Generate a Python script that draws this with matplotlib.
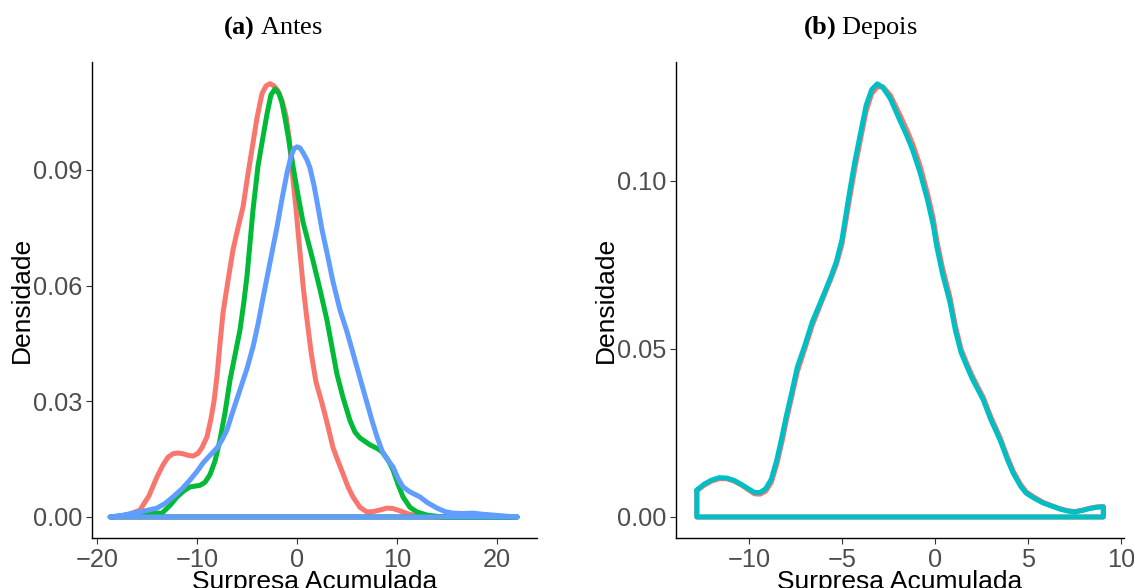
import matplotlib
matplotlib.use('Agg')
import matplotlib.pyplot as plt

plt.rcParams['font.family'] = ['Liberation Sans', 'DejaVu Sans']
plt.rcParams['mathtext.fontset'] = 'custom'
plt.rcParams['mathtext.rm'] = 'Liberation Serif'
plt.rcParams['mathtext.bf'] = 'Liberation Serif:bold'

# (a) Antes - densidades
antes_verm_x = [-18.6, -17.2, -15.7, -14.8, -14.0, -13.4, -12.9, -12.4, -11.9, -11.4,
                -10.9, -10.4, -9.9, -9.5, -9.0, -8.6, -8.3, -8.0, -7.7, -7.4,
                -7.1, -6.7, -6.4, -5.9, -5.4, -4.9, -4.4, -4.0, -3.5, -3.1,
                -2.7, -2.3, -1.9, -1.5, -1.1, -0.8, -0.5, -0.1, 0.3, 0.65,
                1.0, 1.45, 1.9, 2.5, 3.0, 3.6, 4.1, 4.6, 5.1, 5.6,
                6.3, 7.0, 7.6, 8.3, 9.0, 9.6, 10.3, 11.0, 11.6, 12.5,
                14.0, 22.0]
antes_verm_y = [0.0, 0.0003, 0.0018, 0.0055, 0.0104, 0.0135, 0.0155, 0.0164, 0.0166, 0.0164,
                0.0160, 0.0158, 0.0165, 0.0180, 0.0208, 0.0255, 0.0300, 0.0365, 0.0450, 0.0529,
                0.0580, 0.0645, 0.0693, 0.0750, 0.0804, 0.0890, 0.0970, 0.1035, 0.1098, 0.1118,
                0.1124, 0.1118, 0.1105, 0.1080, 0.1040, 0.0985, 0.0900, 0.0800, 0.0685, 0.0590,
                0.0511, 0.0420, 0.0350, 0.0295, 0.0245, 0.0180, 0.0145, 0.0112, 0.0078, 0.0052,
                0.0025, 0.0013, 0.0014, 0.0018, 0.0023, 0.0022, 0.0016, 0.0009, 0.0005, 0.0002,
                0.0, 0.0]

antes_verde_x = [-18.6, -15.7, -13.5, -12.7, -12.0, -11.3, -10.7, -10.2, -9.7, -9.2,
                 -8.7, -8.2, -7.7, -7.2, -6.7, -6.2, -5.7, -5.3, -5.0, -4.7,
                 -4.4, -3.9, -3.4, -3.0, -2.6, -2.2, -1.8, -1.5, -1.2, -0.9,
                 -0.4, 0.1, 0.6, 1.1, 1.6, 2.3, 3.0, 3.5, 4.0, 4.6,
                 5.3, 5.8, 6.3, 7.3, 8.0, 8.5, 9.1, 9.6, 10.1, 10.6,
                 11.3, 12.0, 13.0, 14.5, 22.0]
antes_verde_y = [0.0, 0.0010, 0.0010, 0.0030, 0.0052, 0.0068, 0.0078, 0.0080, 0.0082, 0.0090,
                 0.0110, 0.0145, 0.0200, 0.0270, 0.0355, 0.0420, 0.0485, 0.0560, 0.0625, 0.0710,
                 0.0796, 0.0910, 0.0986, 0.1045, 0.1095, 0.1110, 0.1098, 0.1074, 0.1035, 0.0990,
                 0.0910, 0.0835, 0.0765, 0.0715, 0.0665, 0.0590, 0.0510, 0.0440, 0.0370, 0.0310,
                 0.0250, 0.0220, 0.0205, 0.0187, 0.0178, 0.0169, 0.0148, 0.0122, 0.0085, 0.0052,
                 0.0025, 0.0013, 0.0005, 0.0, 0.0]

antes_azul_x = [-18.7, -17.5, -16.4, -15.2, -14.0, -13.2, -12.4, -11.5, -10.7, -10.0,
                -9.4, -8.7, -8.0, -7.5, -7.0, -6.4, -5.7, -5.0, -4.4, -3.9,
                -3.4, -2.7, -2.0, -1.5, -1.0, -0.6, -0.3, 0.0, 0.3, 0.6,
                1.0, 1.3, 1.7, 2.1, 2.5, 3.0, 3.6, 4.3, 5.0, 5.6,
                6.3, 7.0, 7.5, 8.0, 8.5, 9.0, 9.6, 10.1, 10.6, 11.3,
                12.3, 13.0, 14.0, 14.8, 15.6, 16.6, 17.6, 18.6, 19.6, 21.0,
                22.0]
antes_azul_y = [0.0, 0.0004, 0.0010, 0.0016, 0.0023, 0.0035, 0.0052, 0.0073, 0.0096, 0.0118,
                0.0140, 0.0160, 0.0179, 0.0200, 0.0226, 0.0275, 0.0330, 0.0385, 0.0441, 0.0500,
                0.0568, 0.0660, 0.0752, 0.0825, 0.0892, 0.0935, 0.0955, 0.0960, 0.0957, 0.0945,
                0.0926, 0.0905, 0.0860, 0.0804, 0.0745, 0.0685, 0.0610, 0.0537, 0.0480, 0.0425,
                0.0360, 0.0296, 0.0250, 0.0208, 0.0172, 0.0150, 0.0130, 0.0100, 0.0078, 0.0065,
                0.0052, 0.0038, 0.0023, 0.0014, 0.0010, 0.0009, 0.0010, 0.0007, 0.0005, 0.0002,
                0.0]

# (b) Depois
depois_x = [-12.8, -12.4, -12.0, -11.6, -11.2, -10.8, -10.4, -10.0, -9.7, -9.4,
            -9.1, -8.8, -8.5, -8.2, -8.0, -7.7, -7.4, -7.0, -6.6, -6.1,
            -5.6, -5.3, -5.0, -4.6, -4.3, -4.0, -3.7, -3.4, -3.1, -2.8,
            -2.4, -1.9, -1.5, -1.2, -0.8, -0.4, -0.1, 0.1, 0.4, 0.8,
            1.1, 1.4, 1.7, 2.0, 2.3, 2.6, 3.0, 3.5, 3.9, 4.2,
            4.6, 4.9, 5.3, 5.8, 6.3, 6.7, 7.1, 7.5, 7.9, 8.3,
            8.7, 9.05]
depois_verm_y = [0.0078, 0.0095, 0.0107, 0.0114, 0.0114, 0.0107, 0.0095, 0.0080, 0.0069, 0.0068,
                 0.0077, 0.0103, 0.0158, 0.0230, 0.0285, 0.0358, 0.0432, 0.0500, 0.0570, 0.0640,
                 0.0708, 0.0752, 0.0812, 0.0945, 0.1040, 0.1125, 0.1208, 0.1260, 0.1280, 0.1280,
                 0.1255, 0.1198, 0.1150, 0.1110, 0.1045, 0.0962, 0.0890, 0.0822, 0.0742, 0.0655,
                 0.0568, 0.0500, 0.0458, 0.0420, 0.0387, 0.0355, 0.0298, 0.0236, 0.0177, 0.0137,
                 0.0097, 0.0075, 0.0060, 0.0044, 0.0033, 0.0025, 0.0019, 0.0016, 0.0020, 0.0026,
                 0.0030, 0.0031]
depois_ciano_y = [0.0080, 0.0098, 0.0110, 0.0117, 0.0116, 0.0109, 0.0097, 0.0083, 0.0073, 0.0073,
                  0.0084, 0.0112, 0.0170, 0.0245, 0.0298, 0.0370, 0.0446, 0.0510, 0.0580, 0.0646,
                  0.0714, 0.0760, 0.0825, 0.0964, 0.1060, 0.1143, 0.1225, 0.1272, 0.1289, 0.1278,
                  0.1245, 0.1182, 0.1133, 0.1092, 0.1025, 0.0943, 0.0870, 0.0804, 0.0725, 0.0640,
                  0.0555, 0.0490, 0.0450, 0.0412, 0.0380, 0.0348, 0.0290, 0.0229, 0.0170, 0.0131,
                  0.0092, 0.0071, 0.0057, 0.0042, 0.0032, 0.0024, 0.0018, 0.0015, 0.0019, 0.0025,
                  0.0029, 0.0030]

cores_a = ['#F8766D', '#00BA38', '#619CFF']
cores_b = ['#F8766D', '#00BFC4']


def contorno(ax, xs, ys, cor):
    # poligono fechado como o geom_density
    px = list(xs) + [xs[-1], xs[0], xs[0]]
    py = list(ys) + [0.0, 0.0, ys[0]]
    ax.plot(px, py, color=cor, lw=3.6, solid_joinstyle='round', solid_capstyle='round')


def estilo(ax):
    for lado in ['top', 'right']:
        ax.spines[lado].set_visible(False)
    for lado in ['left', 'bottom']:
        ax.spines[lado].set_linewidth(1.0)
        ax.spines[lado].set_color('black')
    ax.tick_params(axis='both', labelsize=18.3, labelcolor='#4D4D4D', color='#333333', length=4, width=0.8, pad=3)
    ax.set_xlabel('Surpresa Acumulada', fontsize=19, labelpad=-1)
    ax.set_ylabel('Densidade', fontsize=19, labelpad=-1)


fig = plt.figure(figsize=(11.34, 5.88), dpi=100)
ax1 = fig.add_axes([92 / 1134, 50 / 588, 445 / 1134, 476 / 588])
ax2 = fig.add_axes([676 / 1134, 50 / 588, 448 / 1134, 476 / 588])

contorno(ax1, antes_verm_x, antes_verm_y, cores_a[0])
contorno(ax1, antes_verde_x, antes_verde_y, cores_a[1])
contorno(ax1, antes_azul_x, antes_azul_y, cores_a[2])
ax1.set_xlim(-20.5, 24.0)
ax1.set_ylim(-0.00545, 0.118)
ax1.set_xticks([-20, -10, 0, 10, 20])
ax1.set_yticks([0.0, 0.03, 0.06, 0.09])
ax1.set_yticklabels(['0.00', '0.03', '0.06', '0.09'])
estilo(ax1)

contorno(ax2, depois_x, depois_verm_y, cores_b[0])
contorno(ax2, depois_x, depois_ciano_y, cores_b[1])
ax2.set_xlim(-13.92, 10.16)
ax2.set_ylim(-0.00625, 0.1354)
ax2.set_xticks([-10, -5, 0, 5, 10])
ax2.set_yticks([0.0, 0.05, 0.10])
ax2.set_yticklabels(['0.00', '0.05', '0.10'])
estilo(ax2)

fig.text(273 / 1134, 1 - 28 / 588, r'$\mathbf{(a)}$ Antes', ha='center', va='center', fontsize=19,
         family='Liberation Serif')
fig.text(860 / 1134, 1 - 28 / 588, r'$\mathbf{(b)}$ Depois', ha='center', va='center', fontsize=19,
         family='Liberation Serif')

fig.savefig('out.png', dpi=100)
